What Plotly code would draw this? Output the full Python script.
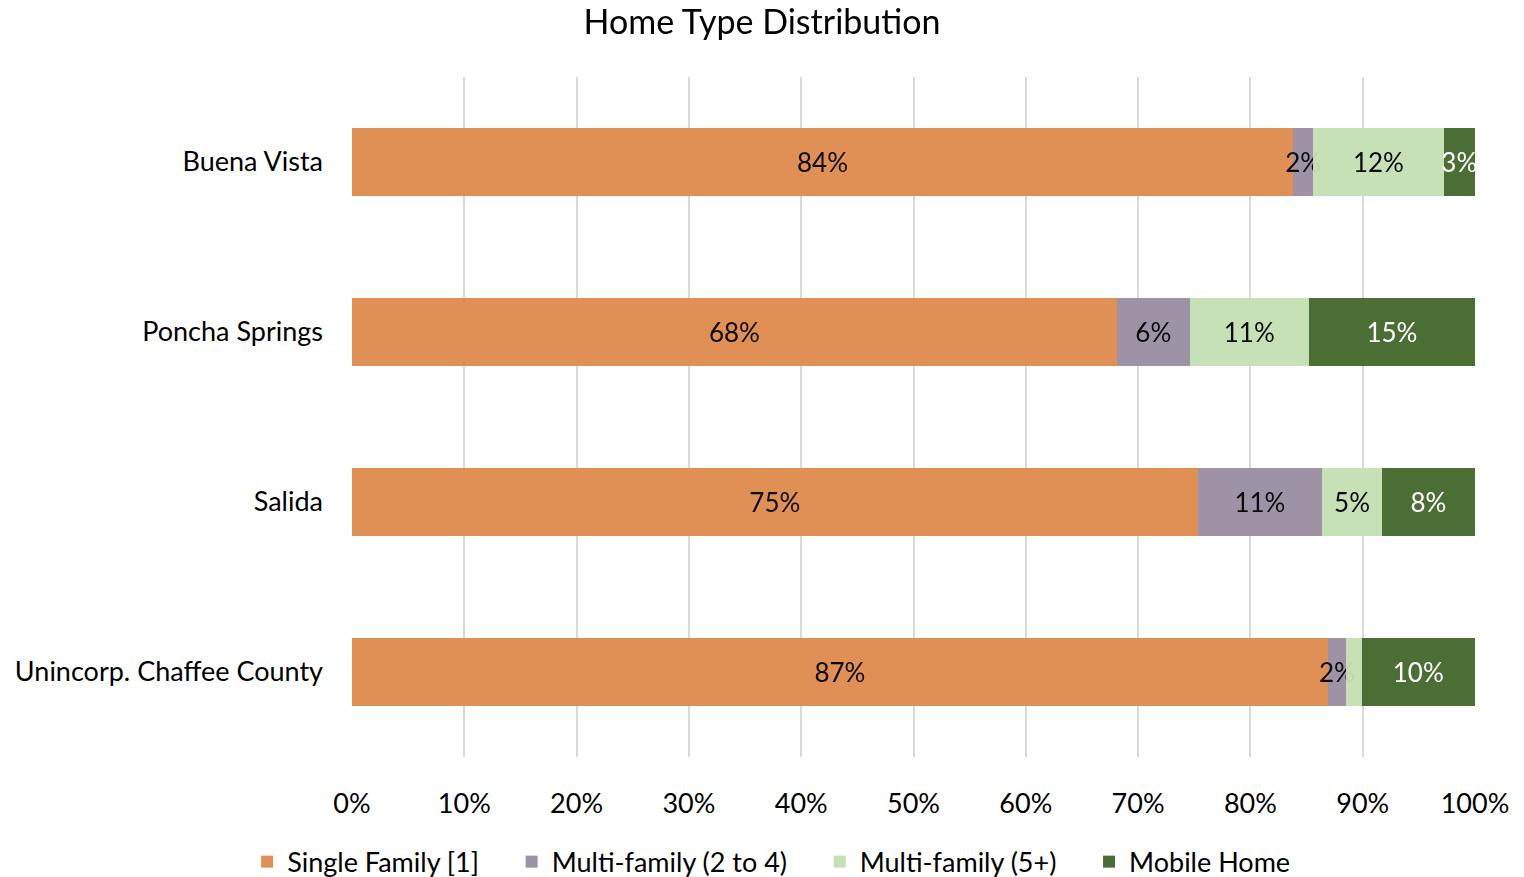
import plotly.graph_objects as go

# Data (percent of homes by type)
places = ["Buena Vista", "Poncha Springs", "Salida", "Unincorp. Chaffee County"]
single_family = [83.8, 68.1, 75.3, 86.9]
multi_2_4 = [1.8, 6.5, 11.1, 1.6]
multi_5_plus = [11.6, 10.6, 5.3, 1.4]
mobile_home = [2.8, 14.8, 8.3, 10.1]

tick_vals = [0, 10, 20, 30, 40, 50, 60, 70, 80, 90, 100]
tick_text = [f"{v}%" for v in tick_vals]

series = [
    ("Single Family [1]", single_family, "#E08C4E", "black"),
    ("Multi-family (2 to 4)", multi_2_4, "#9A8FA3", "black"),
    ("Multi-family (5+)", multi_5_plus, "#C5E0B4", "black"),
    ("Mobile Home", mobile_home, "#43682B", "white"),
]

FONT = "Lato, 'Open Sans', sans-serif"
FS = 27
PAD = "\u00a0" * 4  # widen the gap between legend entries


def label(v):
    # very thin slices are left unlabeled, as in the original
    return f"{v:.0f}%" if v >= 1.5 else ""


fig = go.Figure()
for i, (name, vals, color, tcolor) in enumerate(series):
    fig.add_trace(go.Bar(
        y=places, x=vals, orientation="h",
        name=name + (PAD if i < len(series) - 1 else ""),
        marker=dict(color=color, line=dict(width=0)),
        opacity=0.96,
        text=[label(v) for v in vals],
        textposition="inside", insidetextanchor="middle", textangle=0,
        constraintext="none", cliponaxis=False,
        textfont=dict(color=tcolor, size=26, family=FONT),
        hovertemplate="%{y}<br>" + name + ": %{x:.1f}%<extra></extra>",
    ))

fig.update_layout(
    barmode="stack",
    bargap=0.6,
    width=1524, height=877,
    margin=dict(l=352, r=49, t=77, b=120),
    paper_bgcolor="white", plot_bgcolor="white",
    font=dict(family=FONT, size=FS, color="black"),
    title=dict(text="Home Type Distribution", x=0.5, xanchor="center",
               y=0.975, yanchor="middle",
               font=dict(size=34, family=FONT, color="black")),
    legend=dict(orientation="h", xref="container", yref="container",
                x=0.506, xanchor="center", y=0.017, yanchor="middle",
                font=dict(size=FS, family=FONT), traceorder="normal",
                itemwidth=30),
)
fig.update_xaxes(range=[0, 100], tickvals=tick_vals, ticktext=tick_text,
                 showgrid=True, gridcolor="#D9D9D9", gridwidth=2,
                 zeroline=False, ticks="", ticklabelstandoff=28,
                 automargin=False, tickfont=dict(size=FS))
fig.update_yaxes(autorange="reversed", showgrid=False, ticks="",
                 ticklabelstandoff=28, automargin=False,
                 tickfont=dict(size=FS))

# drop the default 8px body margin so the figure fills the window exactly
fig.write_html("out.html", config={"displayModeBar": False},
               post_script="document.body.style.margin='0';")
